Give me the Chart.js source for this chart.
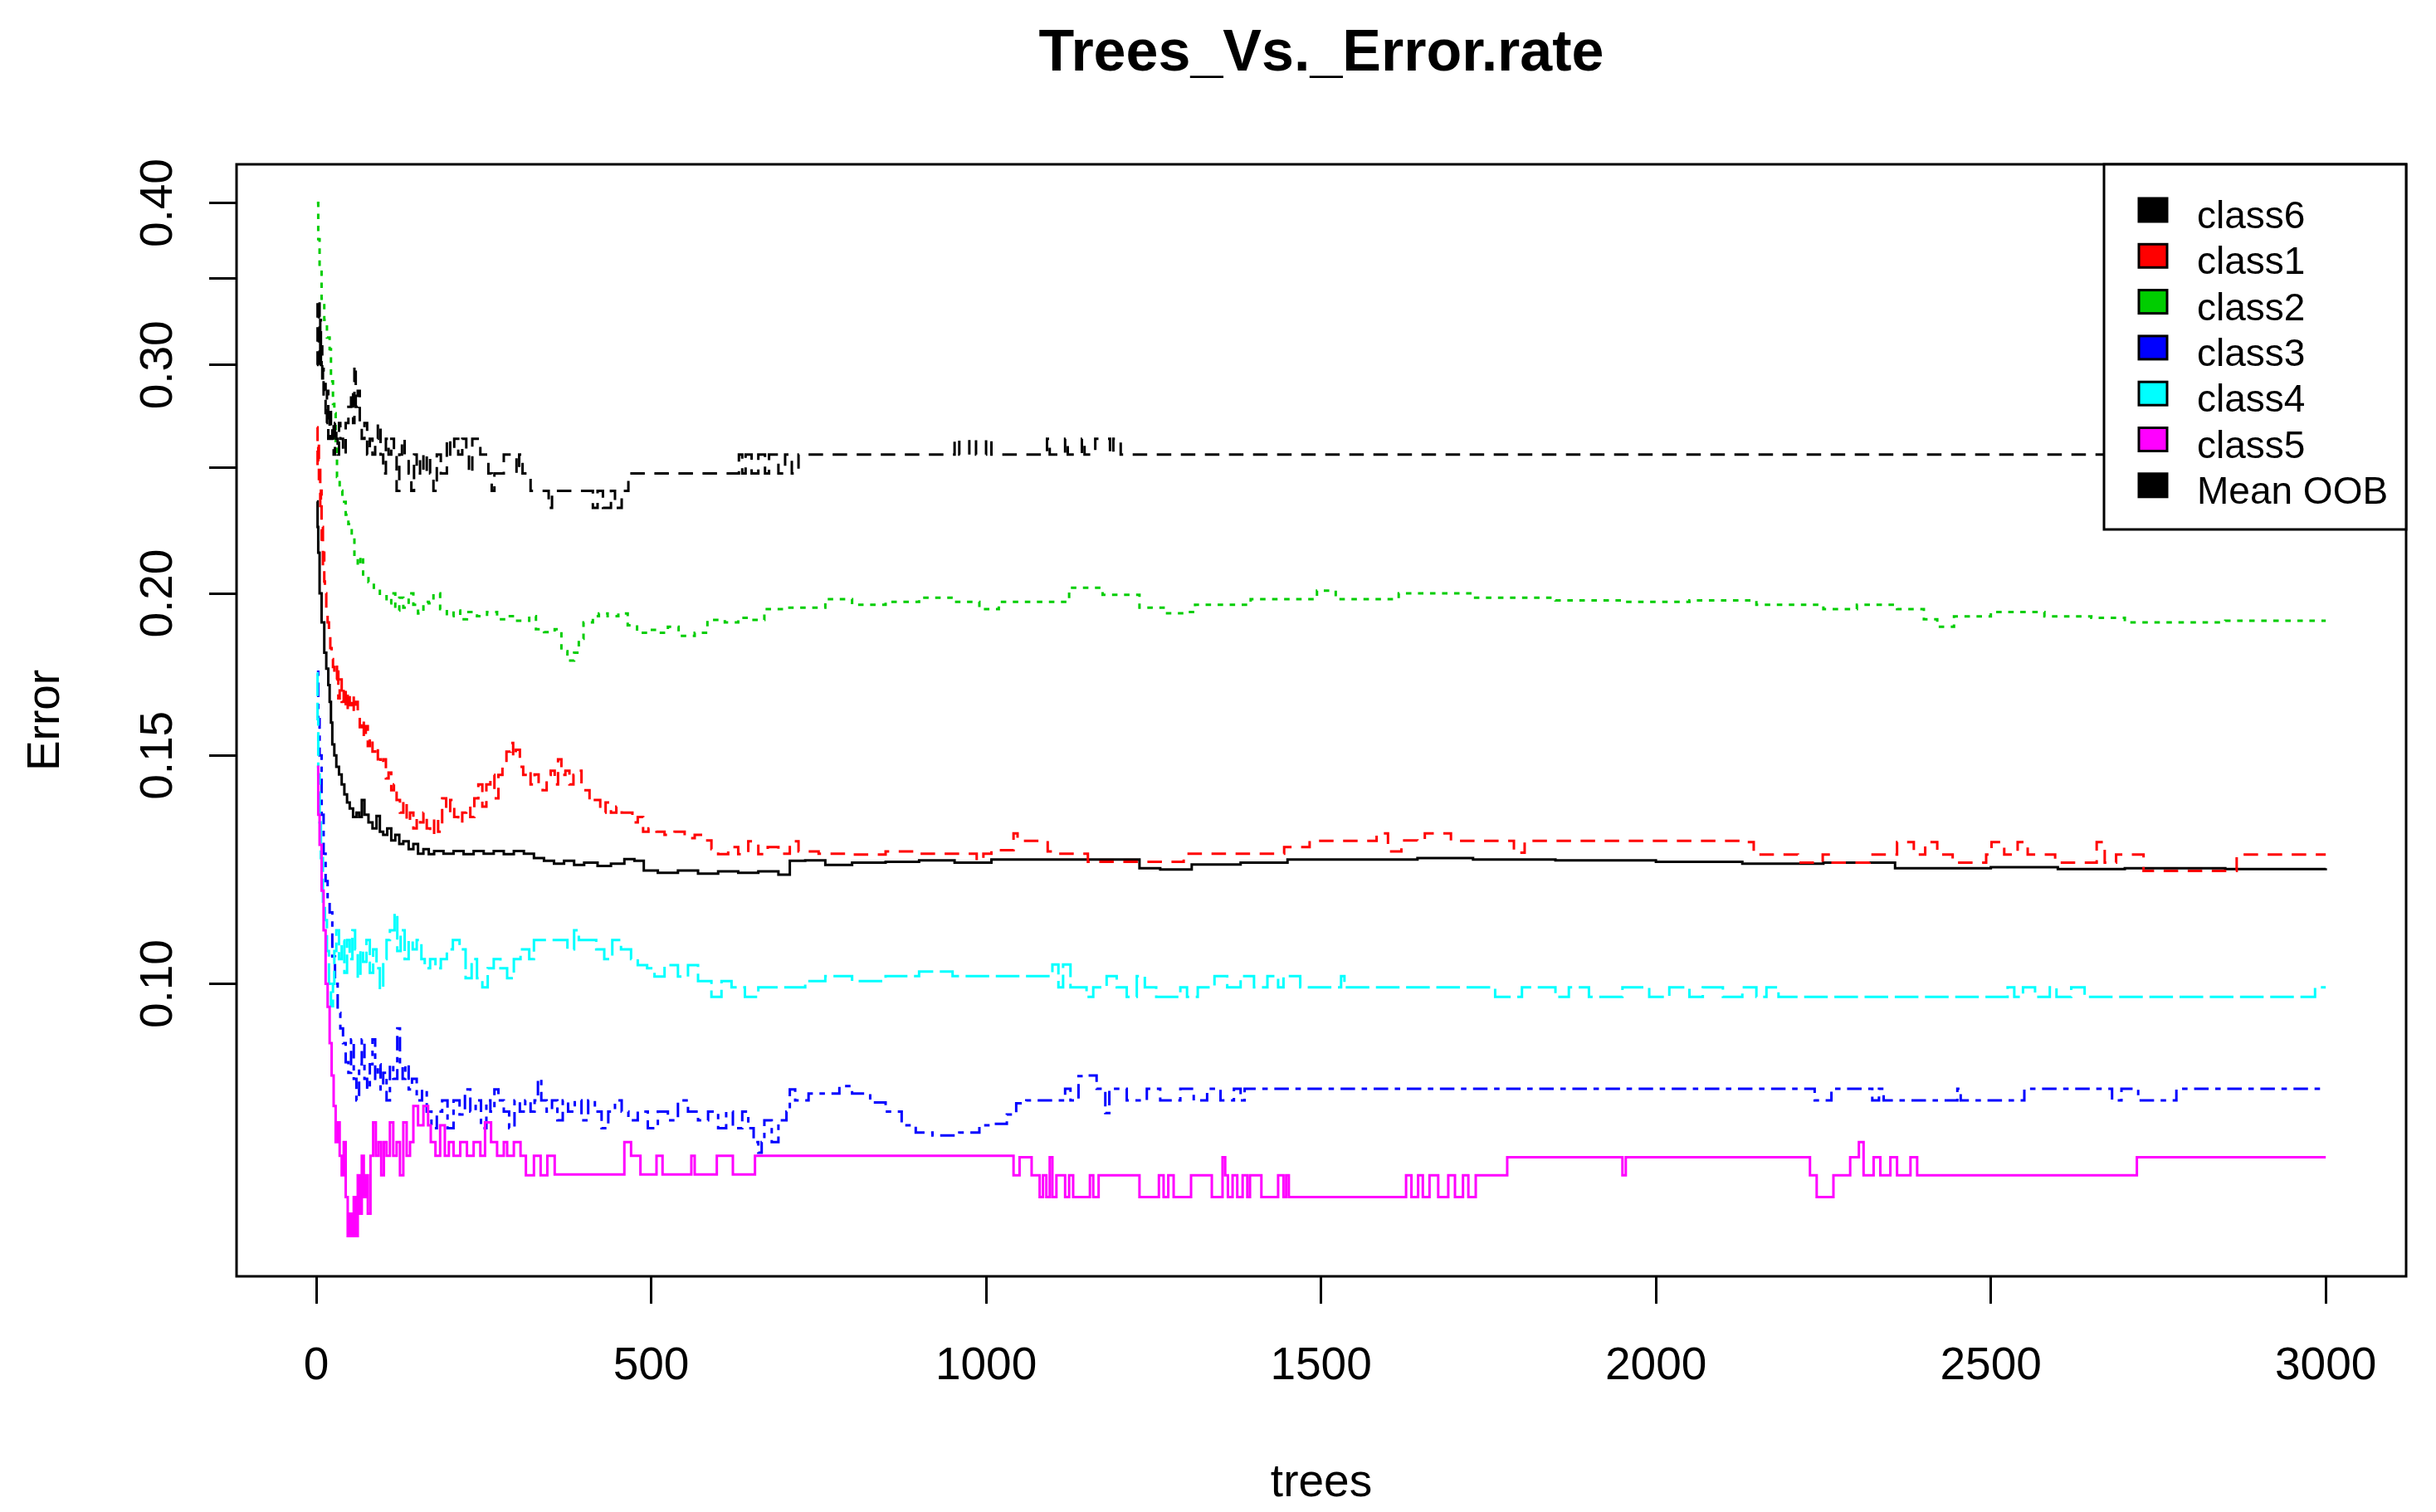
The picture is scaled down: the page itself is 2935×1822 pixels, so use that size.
<!DOCTYPE html>
<html>
<head>
<meta charset="utf-8">
<title>Trees_Vs._Error.rate</title>
<script src="https://cdn.jsdelivr.net/npm/chart.js@4.4.1/dist/chart.umd.min.js"></script>
<style>
  html, body { margin: 0; padding: 0; background: #fff; }
  canvas { display: block; }
</style>
</head>
<body>
<canvas id="chart" width="2935" height="1822" style="width:2935px;height:1822px"></canvas>
<script>
const chartTitle = "Trees_Vs._Error.rate";
const xTitle = "trees";
const yTitle = "Error";
const xTicks = [0, 500, 1000, 1500, 2000, 2500, 3000];
const yTicks = [0.10, 0.15, 0.20, 0.25, 0.30, 0.35, 0.40];
const yTickLabels = ["0.10", "0.15", "0.20", "", "0.30", "", "0.40"];
const legendOrder = ["class6", "class1", "class2", "class3", "class4", "class5", "Mean OOB"];

// [trees, error rate]
const meanOob = [[1,0.2355],[2,0.225],[3,0.215],[5,0.2],[8,0.19],[12,0.18],[15,0.175],[18,0.17],[20,0.165],[22,0.159],[24,0.153],[27,0.15],[30,0.147],[34,0.145],[38,0.1425],[42,0.14],[46,0.138],[50,0.1365],[55,0.1345],[60,0.1355],[64,0.1345],[68,0.1386],[72,0.135],[78,0.1332],[84,0.1318],[90,0.1347],[95,0.131],[100,0.1303],[106,0.1318],[112,0.129],[118,0.1303],[124,0.1282],[130,0.1288],[138,0.127],[145,0.1282],[152,0.126],[160,0.127],[168,0.1259],[176,0.1266],[190,0.126],[205,0.1266],[220,0.1259],[235,0.1266],[250,0.126],[265,0.1266],[280,0.1259],[295,0.1266],[310,0.126],[325,0.125],[340,0.1244],[355,0.1238],[370,0.1244],[385,0.1235],[400,0.124],[420,0.1233],[440,0.1238],[460,0.1248],[475,0.1244],[489,0.1223],[510,0.1218],[540,0.1223],[570,0.1216],[600,0.1221],[630,0.1218],[660,0.1221],[690,0.1214],[707,0.1244],[730,0.1245],[760,0.1235],[800,0.124],[850,0.1242],[900,0.1245],[953,0.124],[1008,0.1247],[1229,0.1228],[1260,0.1225],[1307,0.1236],[1380,0.124],[1450,0.1247],[1644,0.125],[1727,0.1247],[1850,0.1245],[2000,0.1242],[2129,0.1238],[2250,0.124],[2357,0.1228],[2500,0.123],[2600,0.1226],[2700,0.1228],[2850,0.1226],[3000,0.1228]];

const class1 = [[1,0.2686],[2,0.25],[3,0.262],[4,0.245],[5,0.25],[6,0.2328],[7,0.24],[8,0.22],[9,0.225],[10,0.21],[11,0.215],[12,0.2043],[13,0.2],[15,0.195],[17,0.19],[19,0.186],[21,0.1815],[23,0.178],[25,0.1755],[27,0.172],[29,0.1717],[31,0.1765],[33,0.166],[35,0.1717],[38,0.165],[41,0.1695],[44,0.1623],[47,0.168],[50,0.164],[53,0.1669],[56,0.162],[59,0.165],[62,0.1614],[65,0.1577],[68,0.16],[71,0.1545],[74,0.158],[77,0.1525],[80,0.155],[84,0.151],[88,0.1525],[92,0.149],[96,0.1475],[100,0.149],[104,0.144],[108,0.1455],[112,0.141],[116,0.1425],[120,0.1386],[125,0.1355],[130,0.1386],[135,0.1332],[140,0.1355],[145,0.1318],[150,0.1345],[155,0.1332],[160,0.1355],[165,0.1318],[170,0.1303],[176,0.1345],[182,0.131],[188,0.139],[194,0.1355],[200,0.1386],[206,0.1345],[212,0.133],[218,0.1355],[224,0.137],[230,0.1345],[236,0.139],[242,0.1425],[248,0.137],[254,0.1425],[260,0.1449],[266,0.139],[272,0.1449],[278,0.1475],[284,0.151],[290,0.1534],[294,0.1495],[298,0.1515],[304,0.147],[309,0.1449],[315,0.146],[320,0.1425],[326,0.145],[332,0.1425],[338,0.141],[344,0.1449],[350,0.146],[356,0.1425],[361,0.149],[366,0.1449],[372,0.146],[378,0.1425],[384,0.1449],[390,0.146],[396,0.1425],[402,0.141],[408,0.138],[416,0.1386],[424,0.1355],[432,0.138],[440,0.1355],[448,0.137],[456,0.1355],[465,0.1355],[472,0.1332],[480,0.1345],[488,0.131],[496,0.1318],[508,0.131],[520,0.1303],[535,0.131],[550,0.1295],[565,0.1303],[579,0.129],[590,0.127],[600,0.1259],[615,0.1275],[630,0.1259],[645,0.1288],[660,0.1259],[674,0.1275],[690,0.126],[707,0.1288],[720,0.1265],[750,0.126],[800,0.1258],[850,0.1265],[900,0.126],[953,0.126],[986,0.1245],[996,0.126],[1008,0.1268],[1041,0.1306],[1047,0.1289],[1092,0.1265],[1102,0.126],[1152,0.1242],[1295,0.126],[1445,0.1275],[1483,0.1289],[1583,0.1306],[1600,0.1265],[1620,0.129],[1644,0.1289],[1655,0.1306],[1694,0.1289],[1788,0.1262],[1804,0.1289],[2129,0.1286],[2146,0.1258],[2212,0.124],[2249,0.1258],[2261,0.124],[2319,0.1258],[2360,0.1286],[2385,0.1258],[2402,0.1286],[2420,0.1258],[2443,0.124],[2493,0.1258],[2501,0.1286],[2520,0.1258],[2540,0.1286],[2555,0.1258],[2596,0.124],[2658,0.1286],[2670,0.124],[2687,0.1258],[2728,0.1222],[2867,0.1258],[3000,0.1258]];

const class2 = [[1,0.40],[3,0.375],[5,0.355],[8,0.3375],[12,0.325],[16,0.315],[20,0.3085],[22,0.2914],[25,0.28],[27,0.2754],[29,0.2603],[31,0.2459],[35,0.24],[39,0.2353],[44,0.23],[48,0.2262],[53,0.22],[57,0.2137],[62,0.21],[66,0.2137],[70,0.206],[78,0.204],[86,0.202],[95,0.199],[105,0.1965],[112,0.2],[118,0.194],[124,0.1985],[130,0.195],[138,0.2],[145,0.196],[152,0.193],[160,0.197],[168,0.1965],[175,0.2],[185,0.1945],[195,0.1921],[205,0.194],[215,0.191],[225,0.1935],[240,0.1921],[255,0.1935],[270,0.191],[285,0.1921],[300,0.1905],[318,0.1921],[328,0.1877],[340,0.1867],[356,0.1877],[366,0.1805],[375,0.1775],[385,0.18],[392,0.1845],[399,0.19],[413,0.1921],[422,0.193],[435,0.1921],[451,0.193],[465,0.189],[479,0.1865],[495,0.1875],[508,0.1865],[525,0.1885],[541,0.1855],[565,0.1865],[584,0.1908],[610,0.19],[630,0.1915],[650,0.1908],[669,0.1945],[700,0.195],[730,0.195],[760,0.198],[800,0.196],[850,0.197],[900,0.1985],[953,0.197],[990,0.1945],[1019,0.197],[1124,0.202],[1174,0.1995],[1229,0.195],[1268,0.1931],[1295,0.1935],[1312,0.196],[1395,0.198],[1494,0.201],[1522,0.198],[1616,0.2],[1727,0.1985],[1850,0.1975],[1950,0.197],[2050,0.1975],[2150,0.196],[2250,0.1945],[2300,0.196],[2360,0.1945],[2400,0.191],[2420,0.1885],[2445,0.192],[2500,0.1935],[2580,0.192],[2650,0.1915],[2700,0.19],[2850,0.1905],[3000,0.1905]];

const class3 = [[1,0.174],[3,0.16],[5,0.15],[8,0.135],[11,0.126],[14,0.12],[17,0.116],[20,0.1135],[24,0.105],[28,0.1],[32,0.095],[36,0.0924],[40,0.09],[44,0.087],[48,0.0854],[52,0.0906],[56,0.0845],[60,0.0813],[64,0.0867],[68,0.0906],[72,0.0845],[76,0.0829],[80,0.0867],[84,0.0906],[88,0.0845],[92,0.0867],[96,0.0829],[100,0.0854],[105,0.0813],[110,0.0867],[115,0.0845],[121,0.0924],[125,0.0867],[129,0.0845],[133,0.0867],[138,0.0829],[143,0.0845],[150,0.0813],[158,0.0829],[165,0.0797],[172,0.0774],[180,0.0797],[188,0.0813],[196,0.0774],[205,0.0813],[214,0.0793],[222,0.0829],[230,0.0797],[238,0.0813],[246,0.0774],[254,0.0813],[260,0.0797],[266,0.0829],[272,0.0813],[280,0.0797],[288,0.0774],[296,0.0813],[304,0.0797],[312,0.0813],[320,0.0797],[326,0.0813],[331,0.0845],[336,0.0813],[344,0.0797],[352,0.0813],[360,0.0785],[368,0.0813],[376,0.0797],[386,0.0813],[396,0.0785],[406,0.0813],[416,0.0797],[426,0.0774],[436,0.0797],[446,0.0813],[456,0.0797],[466,0.0785],[480,0.0797],[495,0.0774],[510,0.0797],[525,0.0785],[540,0.0813],[555,0.0797],[570,0.0785],[585,0.0797],[600,0.0774],[612,0.0797],[622,0.0774],[636,0.0797],[645,0.0774],[653,0.0755],[660,0.0741],[665,0.0755],[669,0.0785],[680,0.0755],[690,0.0785],[702,0.0797],[707,0.0829],[715,0.0813],[735,0.0823],[781,0.0834],[800,0.0823],[827,0.081],[850,0.0797],[874,0.0778],[895,0.0768],[920,0.0764],[960,0.0768],[990,0.0778],[1010,0.078],[1031,0.0793],[1045,0.0809],[1060,0.0813],[1118,0.083],[1126,0.0813],[1138,0.0849],[1150,0.085],[1165,0.083],[1178,0.0795],[1184,0.083],[1210,0.0813],[1240,0.083],[1260,0.0813],[1290,0.083],[1310,0.0813],[1330,0.083],[1350,0.0813],[1370,0.083],[1380,0.0813],[1386,0.083],[2237,0.0813],[2262,0.083],[2323,0.0813],[2333,0.083],[2340,0.0813],[2450,0.083],[2455,0.0813],[2550,0.083],[2681,0.0813],[2695,0.083],[2720,0.0813],[2777,0.083],[3000,0.083]];

const class4 = [[1,0.1736],[2,0.16],[3,0.145],[5,0.1332],[7,0.125],[10,0.1157],[13,0.112],[16,0.106],[19,0.1],[22,0.0961],[25,0.1],[27,0.106],[30,0.11],[34,0.1045],[38,0.108],[42,0.102],[46,0.1081],[50,0.1045],[54,0.11],[58,0.1063],[62,0.101],[66,0.1063],[70,0.104],[75,0.1081],[80,0.102],[85,0.1063],[90,0.1028],[95,0.099],[100,0.1045],[105,0.1081],[110,0.11],[117,0.1134],[121,0.106],[126,0.11],[132,0.1045],[138,0.1081],[144,0.1063],[150,0.1081],[157,0.1045],[162,0.1028],[170,0.1045],[178,0.1028],[186,0.1045],[195,0.1063],[204,0.1081],[214,0.1063],[223,0.101],[232,0.1045],[240,0.101],[248,0.0994],[256,0.1028],[265,0.1045],[275,0.1028],[285,0.101],[295,0.1045],[305,0.1063],[318,0.1045],[325,0.1081],[350,0.1081],[375,0.1063],[385,0.11],[392,0.1081],[408,0.1081],[418,0.1063],[430,0.1045],[442,0.1081],[455,0.1063],[470,0.1045],[480,0.1034],[494,0.1028],[505,0.1013],[520,0.1034],[540,0.1013],[555,0.1034],[570,0.1005],[590,0.0977],[605,0.1005],[620,0.0994],[640,0.0977],[660,0.0994],[700,0.0994],[730,0.1005],[760,0.1014],[800,0.1005],[850,0.1014],[900,0.1022],[950,0.1014],[1089,0.1014],[1099,0.1035],[1108,0.0994],[1115,0.1035],[1126,0.0994],[1150,0.0977],[1160,0.0994],[1180,0.1014],[1195,0.0994],[1210,0.0977],[1225,0.1014],[1237,0.0994],[1254,0.0977],[1290,0.0994],[1300,0.0977],[1316,0.0994],[1341,0.1014],[1360,0.0994],[1380,0.1014],[1400,0.0994],[1420,0.1014],[1436,0.0994],[1444,0.1014],[1469,0.0994],[1530,0.1014],[1535,0.0994],[1760,0.0977],[1800,0.0994],[1850,0.0977],[1870,0.0994],[1900,0.0977],[1950,0.0994],[1990,0.0977],[2020,0.0994],[2050,0.0977],[2070,0.0994],[2100,0.0977],[2129,0.0994],[2150,0.0977],[2165,0.0994],[2183,0.0977],[2525,0.0994],[2535,0.0977],[2548,0.0994],[2566,0.0977],[2588,0.0994],[2598,0.0977],[2620,0.0994],[2640,0.0977],[2984,0.0994],[3000,0.0994]];

const class5 = [[1,0.147],[3,0.135],[5,0.128],[8,0.118],[11,0.11],[14,0.1],[17,0.096],[20,0.09],[23,0.085],[26,0.0805],[29,0.0755],[32,0.0782],[35,0.0737],[38,0.0712],[41,0.0755],[44,0.0685],[47,0.0639],[50,0.0665],[53,0.0639],[56,0.0685],[59,0.0639],[62,0.0712],[65,0.0665],[68,0.0737],[71,0.0685],[74,0.0712],[77,0.0665],[81,0.0737],[85,0.0782],[89,0.0737],[93,0.0755],[97,0.0712],[101,0.0755],[105,0.0737],[110,0.0782],[115,0.0737],[120,0.0755],[125,0.0712],[130,0.0782],[135,0.0737],[140,0.0755],[145,0.0805],[152,0.0778],[160,0.0805],[167,0.0778],[171,0.0755],[178,0.0737],[185,0.0778],[192,0.0737],[198,0.0755],[205,0.0737],[215,0.0755],[225,0.0737],[235,0.0755],[245,0.0737],[252,0.0782],[261,0.0755],[270,0.0737],[280,0.0755],[285,0.0737],[295,0.0755],[305,0.0737],[313,0.0712],[325,0.0737],[335,0.0712],[345,0.0737],[356,0.0713],[460,0.0755],[470,0.0737],[484,0.0713],[508,0.0737],[517,0.0713],[560,0.0737],[565,0.0713],[598,0.0737],[622,0.0713],[655,0.0737],[1041,0.0712],[1050,0.0735],[1068,0.0712],[1080,0.0685],[1085,0.0712],[1090,0.0685],[1095,0.0735],[1099,0.0685],[1105,0.0712],[1118,0.0685],[1124,0.0712],[1130,0.0685],[1155,0.0712],[1160,0.0685],[1168,0.0712],[1229,0.0685],[1258,0.0712],[1265,0.0685],[1272,0.0712],[1280,0.0685],[1306,0.0712],[1337,0.0685],[1353,0.0735],[1357,0.0712],[1361,0.0685],[1368,0.0712],[1375,0.0685],[1383,0.0712],[1390,0.0685],[1394,0.0712],[1411,0.0685],[1436,0.0712],[1444,0.0685],[1448,0.0712],[1452,0.0685],[1627,0.0712],[1635,0.0685],[1645,0.0712],[1652,0.0685],[1662,0.0712],[1675,0.0685],[1690,0.0712],[1700,0.0685],[1712,0.0712],[1720,0.0685],[1731,0.0712],[1778,0.0735],[1950,0.0712],[1955,0.0735],[2230,0.0712],[2240,0.0685],[2265,0.0712],[2290,0.0735],[2303,0.0755],[2310,0.0712],[2325,0.0735],[2335,0.0712],[2350,0.0735],[2360,0.0712],[2380,0.0735],[2390,0.0712],[2718,0.0735],[3000,0.0735]];

const class6 = [[1,0.30],[2,0.3375],[3,0.31],[4,0.3375],[5,0.30],[6,0.325],[7,0.30],[8,0.31],[9,0.29],[10,0.298],[11,0.283],[12,0.29],[14,0.2706],[16,0.2865],[18,0.2632],[20,0.2785],[22,0.2632],[24,0.2706],[26,0.2559],[28,0.2706],[30,0.2632],[32,0.2559],[34,0.2706],[36,0.2632],[40,0.2559],[44,0.2706],[48,0.2785],[52,0.2865],[55,0.2706],[57,0.30],[59,0.2785],[62,0.2865],[65,0.2706],[68,0.2632],[72,0.2706],[76,0.2559],[80,0.2632],[84,0.2559],[88,0.2632],[92,0.2706],[96,0.2559],[100,0.2475],[104,0.2632],[108,0.2559],[112,0.2632],[116,0.2559],[120,0.2399],[124,0.2559],[128,0.2632],[132,0.2559],[138,0.2475],[142,0.2399],[146,0.2559],[150,0.2475],[155,0.2559],[160,0.2475],[165,0.2559],[170,0.2475],[175,0.2399],[180,0.2559],[186,0.2475],[195,0.2632],[200,0.2559],[206,0.2632],[212,0.2559],[218,0.2632],[224,0.2559],[228,0.2475],[233,0.2632],[245,0.2559],[257,0.2475],[262,0.2399],[266,0.2475],[280,0.2559],[299,0.2475],[303,0.2559],[308,0.2475],[320,0.2399],[347,0.2328],[352,0.2399],[413,0.2328],[420,0.2399],[428,0.2328],[440,0.2399],[446,0.2328],[456,0.2399],[466,0.2475],[631,0.2559],[636,0.2475],[641,0.2559],[650,0.2475],[660,0.2559],[670,0.2475],[676,0.2559],[690,0.2475],[700,0.2559],[710,0.2475],[720,0.2559],[953,0.2632],[960,0.2559],[975,0.2632],[985,0.2559],[1000,0.2632],[1008,0.2559],[1091,0.2632],[1095,0.2559],[1118,0.2632],[1122,0.2559],[1143,0.2632],[1147,0.2559],[1163,0.2632],[1185,0.2559],[1190,0.2632],[1201,0.2559],[3000,0.2559]];

// R line types at this resolution
const solid = [];
const dashed = [17.5, 11.5];
const dotted = [6.6, 7.9];
const dotdash = [6.6, 7.9, 17.5, 7.9];
const longdash = [28.5, 7.9];

const series = [
  { label: "Mean OOB", data: meanOob, color: "#000000", dash: solid },
  { label: "class1", data: class1, color: "#FF0000", dash: dashed },
  { label: "class2", data: class2, color: "#00CD00", dash: dotted },
  { label: "class3", data: class3, color: "#0000FF", dash: dotdash },
  { label: "class4", data: class4, color: "#00FFFF", dash: longdash },
  { label: "class5", data: class5, color: "#FF00FF", dash: solid },
  { label: "class6", data: class6, color: "#000000", dash: dashed }
];

const font = "'Liberation Sans', Arial, sans-serif";

const rPlotDecor = {
  id: "rPlotDecor",
  afterDraw(chart) {
    const ctx = chart.ctx;
    const area = chart.chartArea;
    const xs = chart.scales.x;
    const ys = chart.scales.y;
    ctx.save();
    ctx.fillStyle = "#000";
    ctx.strokeStyle = "#000";

    // plot box
    ctx.lineWidth = 3;
    ctx.strokeRect(area.left, area.top, area.right - area.left, area.bottom - area.top);

    // tick labels
    ctx.font = "55px " + font;
    ctx.textAlign = "center";
    ctx.textBaseline = "alphabetic";
    xTicks.forEach(v => {
      ctx.fillText(String(v), xs.getPixelForValue(v), area.bottom + 124);
    });
    yTicks.forEach((v, i) => {
      if (!yTickLabels[i]) return;
      ctx.save();
      ctx.translate(area.left - 78, ys.getPixelForValue(v));
      ctx.rotate(-Math.PI / 2);
      ctx.fillText(yTickLabels[i], 0, 0);
      ctx.restore();
    });

    // titles
    const midX = (area.left + area.right) / 2;
    ctx.font = "bold 70px " + font;
    ctx.fillText(chartTitle, midX, 85);
    ctx.font = "55px " + font;
    ctx.fillText(xTitle, midX, 1803);
    ctx.save();
    ctx.translate(71, (area.top + area.bottom) / 2);
    ctx.rotate(-Math.PI / 2);
    ctx.fillText(yTitle, 0, 0);
    ctx.restore();

    // legend
    const boxL = 2535, boxT = area.top, boxR = area.right, boxB = 638;
    ctx.fillStyle = "#fff";
    ctx.fillRect(boxL, boxT, boxR - boxL, boxB - boxT);
    ctx.lineWidth = 3;
    ctx.strokeRect(boxL, boxT, boxR - boxL, boxB - boxT);
    ctx.font = "46px " + font;
    ctx.textAlign = "left";
    legendOrder.forEach((name, i) => {
      const s = series.find(d => d.label === name);
      const cy = 253 + i * 55.3;
      ctx.fillStyle = s.color;
      ctx.fillRect(2577, cy - 14, 34, 28);
      ctx.lineWidth = 3;
      ctx.strokeStyle = "#000";
      ctx.strokeRect(2577, cy - 14, 34, 28);
      ctx.fillStyle = "#000";
      ctx.fillText(name, 2647, cy + 22);
    });
    ctx.restore();
  }
};

new Chart(document.getElementById("chart"), {
  type: "line",
  data: {
    datasets: series.map((s, i) => ({
      label: s.label,
      data: s.data.map(p => ({ x: p[0], y: p[1] })),
      borderColor: s.color,
      borderWidth: 3,
      borderDash: s.dash,
      borderCapStyle: "butt",
      pointRadius: 0,
      stepped: true,
      fill: false,
      order: series.length - i
    }))
  },
  options: {
    responsive: false,
    animation: false,
    devicePixelRatio: 1,
    layout: { padding: { left: 285, right: 36, top: 198, bottom: 284 } },
    plugins: {
      legend: { display: false },
      tooltip: { enabled: false },
      title: { display: false }
    },
    scales: {
      x: {
        type: "linear",
        min: -118.96,
        max: 3119.96,
        afterBuildTicks: s => { s.ticks = xTicks.map(v => ({ value: v })); },
        afterFit: s => { s.height = 0; },
        border: { display: false },
        grid: { drawOnChartArea: false, drawTicks: true, tickLength: 33, color: "#000", lineWidth: 3 },
        ticks: { display: false }
      },
      y: {
        type: "logarithmic",
        min: 0.0595,
        max: 0.4284,
        afterBuildTicks: s => { s.ticks = yTicks.map(v => ({ value: v })); },
        afterFit: s => { s.width = 0; },
        border: { display: false },
        grid: { drawOnChartArea: false, drawTicks: true, tickLength: 33, color: "#000", lineWidth: 3 },
        ticks: { display: false }
      }
    }
  },
  plugins: [rPlotDecor]
});
</script>
</body>
</html>
